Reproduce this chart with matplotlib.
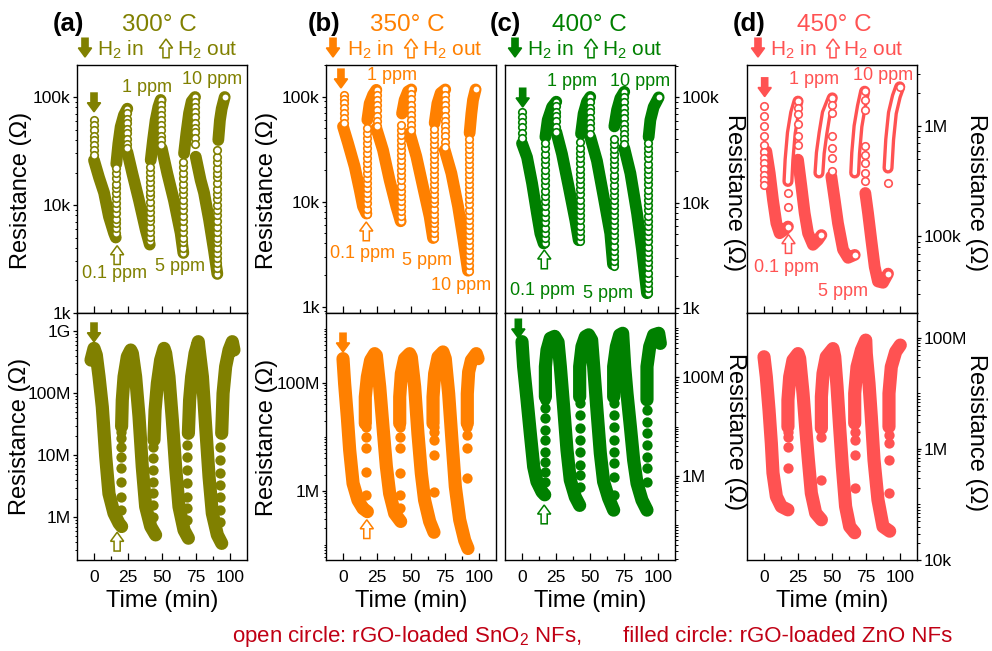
import numpy as np
import matplotlib.pyplot as plt
from matplotlib import font_manager
from matplotlib.patches import Polygon
from matplotlib.ticker import LogLocator, NullFormatter
from matplotlib.transforms import Affine2D, ScaledTranslation

plt.rcParams['font.family'] = ['Liberation Sans', 'DejaVu Sans']
plt.rcParams['mathtext.default'] = 'regular'

# time in min; rGO/SnO2 (open circles) in kOhm, rGO/ZnO (filled circles) in MOhm
# bands: slow sweeps (dense points), cols: fast jumps at a gas switch (t, [R...])

# ---- (a) 300 C ----
a_sn_bands = [
    ([0, 3.7, 7.4, 11.0, 14.7, 16.0], [26, 18, 13, 7.8, 5.5, 5.0]),
    ([16.4, 17.9, 19.6, 22.0, 24.5], [24, 37, 53, 68, 78]),
    ([24.5, 28.2, 33.1, 38.0, 41.0], [31, 19.6, 11, 5.9, 4.3]),
    ([41.7, 43.4, 45.3, 47.3, 49.0], [26, 40, 61, 81, 94]),
    ([49.8, 53.9, 58.8, 63.7, 65.7], [33.5, 19.6, 11, 5.5, 3.6]),
    ([66.2, 67.9, 69.9, 71.8, 74.3], [30, 46, 71, 91, 100]),
    ([74.8, 78.4, 80.9, 84.6, 88.2, 90.7], [28, 17, 13, 7.3, 3.8, 2.3]),
    ([91.4, 92.6, 93.9, 96.1], [40, 61, 78, 100]),
]
a_sn_cols = [
    (0.0, [61, 55, 49, 44, 40, 36, 32, 29]),
    (16.0, [5.5, 6.1, 6.8, 7.5, 8.4, 9.3, 10.4, 11.5, 12.8, 14.3, 15.8, 17.7, 19.6, 21.9]),
    (24.5, [78, 71, 63, 57, 51, 46, 41, 37, 33.5]),
    (41.0, [4.6, 5.1, 5.6, 6.3, 7.1, 7.8, 8.7, 9.5, 10.7, 12, 13.2, 14.8, 16.2, 18.2, 20.4, 22.4]),
    (49.0, [94, 84, 76, 68, 61, 55, 49, 44, 40, 36]),
    (65.7, [3.6, 4.0, 4.5, 5.0, 5.6, 6.3, 7.1, 7.9, 8.9, 10, 11.2, 12.6, 14.1, 15.8, 17.8, 20, 22.4, 25]),
    (74.3, [100, 90, 81, 72, 65, 58, 52, 47, 42, 37]),
    (90.7, [2.3, 2.6, 2.9, 3.2, 3.6, 4.0, 4.5, 5.0, 5.6, 6.3, 7.1, 8.0, 9.0, 10, 11.3, 12.6,
            14, 16, 18, 20, 22, 25, 28, 32]),
    (96.1, [100]),
]
a_zn_bands = [
    ([-2.2, 0, 1.7, 3.7, 6.1, 8.6, 11.0, 14.7, 18.4, 20.3], [340, 525, 410, 184, 60, 9.5, 2.4, 1.16, 0.80, 0.71]),
    ([20.3, 20.8, 22.1, 24.5, 27.0, 28.2, 30.6, 33.1, 35.5, 38.0, 41.7, 45.3],
     [29, 77, 184, 386, 494, 437, 184, 42, 6.5, 1.48, 0.71, 0.52]),
    ([44.1, 44.9, 46.6, 49.0, 51.5, 52.7, 55.1, 57.6, 60.0, 62.5, 66.2, 69.4],
     [17.6, 53, 144, 341, 525, 437, 184, 37, 6.5, 1.48, 0.62, 0.46]),
    ([69.4, 70.3, 71.8, 74.3, 76.7, 77.2, 79.7, 82.1, 84.6, 87.0, 90.7, 93.9],
     [22.5, 77, 184, 437, 673, 525, 184, 29, 4.5, 1.16, 0.52, 0.38]),
    ([93.9, 94.9, 96.8, 99.3, 101.7, 102.9], [22.5, 99, 267, 494, 673, 494]),
]
a_zn_cols = [
    (19.6, [1.31, 2.15, 3.75, 6.15, 9.5, 13.7, 18.7, 24]),
    (43.4, [1.02, 1.58, 2.43, 3.75, 5.8, 8.9, 13.7]),
    (68.6, [0.90, 1.39, 2.15, 3.52, 5.8, 9.5, 14.6]),
    (92.4, [0.85, 1.31, 2.15, 3.31, 5.1, 8.4, 13.7]),
]

# ---- (b) 350 C ----
b_sn_bands = [
    ([0, 3.7, 8.6, 12.3, 14.7, 17.2], [52, 36, 21.5, 12.9, 9.0, 7.7]),
    ([17.9, 19.6, 22.1, 24.5], [60, 86, 104, 116]),
    ([24.5, 29.4, 34.3, 39.2, 42.4], [50, 31, 16, 9.0, 6.5]),
    ([43.4, 45.3, 47.8, 50.2], [69, 93, 112, 117]),
    ([49.0, 53.9, 58.8, 63.7, 66.2], [45, 27, 13.9, 7.2, 4.5]),
    ([67.4, 69.4, 71.8, 75.2], [56, 86, 108, 117]),
    ([74.8, 79.7, 84.6, 88.2, 91.9], [31, 18.6, 9.0, 4.6, 2.2]),
    ([93.1, 94.4, 95.6, 97.5], [45, 69, 93, 117]),
]
b_sn_cols = [
    (0.7, [104, 95, 86, 78, 70, 62, 56]),
    (17.9, [7.7, 8.6, 9.7, 10.8, 12, 13.4, 15, 16.7, 18.7, 20.9, 23.3, 26.1, 29, 32.4, 36.2, 40.5, 45.2, 50.5]),
    (25.2, [116, 104, 93, 83, 74, 66, 59, 53]),
    (42.9, [6.5, 7.3, 8.1, 9.1, 10.2, 11.4, 12.7, 14.2, 15.9, 17.8, 19.9, 22.2, 24.8, 27.8, 31, 34.7,
            38.8, 43.3, 48.4, 54]),
    (50.2, [117, 105, 94, 84, 75, 67, 60, 54, 48]),
    (66.9, [4.5, 5.0, 5.6, 6.2, 6.9, 7.7, 8.6, 9.6, 10.7, 11.9, 13.3, 14.8, 16.5, 18.4, 20.5, 22.9,
            25.5, 28.4, 31.7, 35.3, 39.4, 43.9, 49]),
    (75.2, [117, 104, 93, 83, 74, 66, 59, 52, 47, 42, 37, 33]),
    (92.4, [2.2, 2.5, 2.8, 3.1, 3.5, 3.9, 4.3, 4.8, 5.4, 6.0, 6.7, 7.5, 8.4, 9.4, 10.5, 11.7, 13.1,
            14.6, 16.3, 18.2, 20.3, 22.7, 25.3, 28.3, 31.6, 35.3, 39.4]),
    (97.5, [117]),
]
b_zn_bands = [
    ([0, 1.2, 3.2, 4.9, 7.4, 11.0, 14.7, 17.9], [282, 97, 23, 5.7, 1.37, 0.67, 0.47, 0.41]),
    ([16.4, 16.4, 17.9, 20.3, 23.3, 24.5, 27.0, 29.4, 31.9, 34.3, 38.0, 42.4],
     [17.7, 55, 129, 263, 349, 325, 84, 15.3, 2.8, 0.89, 0.38, 0.27]),
    ([41.7, 41.7, 42.9, 45.3, 49.0, 50.2, 52.7, 55.1, 57.6, 60.0, 63.7, 66.9],
     [17.7, 55, 149, 282, 349, 303, 84, 11.5, 2.1, 0.67, 0.27, 0.17]),
    ([66.2, 66.2, 67.4, 69.9, 73.5, 75.2, 77.7, 80.1, 82.6, 85.8, 89.5, 91.9],
     [17.7, 55, 149, 303, 375, 282, 63, 8.7, 1.19, 0.29, 0.12, 0.085]),
    ([91.4, 91.4, 92.4, 94.4, 98.0, 99.3], [17.7, 63, 160, 263, 349, 282]),
]
b_zn_cols = [
    (17.2, [0.83, 2.25, 6.1, 10, 15.3]),
    (42.2, [0.47, 0.83, 2.1, 6.1, 10, 15.3]),
    (66.9, [0.96, 4.6, 8.7, 12.4, 15.3]),
    (91.4, [1.69, 6.1, 10.7, 15.3]),
]

# ---- (c) 400 C ----
c_sn_bands = [
    ([0, 3.7, 7.4, 11.0, 13.5, 15.9], [36.6, 27, 15.3, 7.9, 5.1, 4.1]),
    ([17.2, 18.9, 22.1, 25.2], [42, 61, 81, 91]),
    ([25.2, 29.4, 34.3, 39.2, 41.7], [47, 29, 14.2, 6.8, 4.4]),
    ([43.4, 45.3, 47.8, 50.2], [45, 70, 91, 101]),
    ([50.2, 55.1, 60.0, 64.9, 66.9], [42, 25, 11.4, 5.1, 2.6]),
    ([67.9, 69.9, 72.3, 75.2], [53, 76, 98, 113]),
    ([75.2, 79.7, 84.6, 88.2, 91.9], [33, 19, 7.9, 3.6, 1.38]),
    ([93.1, 94.4, 96.8, 100.5], [42, 61, 81, 100]),
]
c_sn_cols = [
    (0.0, [73, 65, 58, 52, 46, 41]),
    (16.7, [4.1, 4.6, 5.2, 5.8, 6.5, 7.3, 8.2, 9.2, 10.3, 11.6, 13, 14.6, 16.4, 18.4, 20.6, 23.1, 26,
            29.1, 32.7, 36.7]),
    (25.2, [91, 82, 73, 66, 59, 52, 47]),
    (42.4, [4.3, 4.8, 5.4, 6.0, 6.8, 7.6, 8.5, 9.5, 10.7, 12, 13.4, 15, 16.8, 18.8, 21.1, 23.7, 26.5,
            29.7, 33.3, 37.3]),
    (50.2, [101, 90, 80, 72, 64, 57, 51, 45]),
    (67.4, [2.5, 2.8, 3.1, 3.5, 3.9, 4.4, 4.9, 5.5, 6.1, 6.8, 7.6, 8.5, 9.5, 10.6, 11.9, 13.3, 14.8,
            16.6, 18.5, 20.7, 23.1, 25.8, 28.8, 32.2, 36, 40]),
    (75.2, [113, 101, 90, 80, 71, 63, 56, 50, 45, 40, 36]),
    (92.4, [1.38, 1.55, 1.73, 1.94, 2.17, 2.43, 2.72, 3.05, 3.42, 3.83, 4.29, 4.8, 5.4, 6.0, 6.7, 7.5,
            8.5, 9.5, 10.6, 11.9, 13.3, 14.9, 16.7, 18.7, 21, 23.5, 26.3, 29.5, 33, 37]),
    (100.5, [100]),
]
c_zn_bands = [
    ([0, 1.2, 3.7, 6.1, 8.6, 11.0, 14.7, 16.7], [531, 165, 35, 7.3, 1.52, 0.76, 0.47, 0.41]),
    ([17.2, 17.2, 18.4, 20.8, 24.0, 26.5, 28.2, 30.6, 33.1, 35.5, 39.2, 42.4],
     [40, 165, 360, 621, 680, 520, 165, 25, 3.3, 0.82, 0.37, 0.25]),
    ([42.4, 42.4, 44.1, 46.6, 49.0, 51.2, 52.7, 55.1, 57.6, 60.0, 63.7, 67.4],
     [40, 165, 421, 671, 730, 574, 165, 21.7, 2.85, 0.76, 0.35, 0.20]),
    ([67.4, 67.4, 69.4, 71.8, 74.0, 75.5, 77.2, 79.7, 82.1, 84.6, 88.2, 91.9],
     [40, 165, 421, 726, 785, 165, 47, 9.9, 2.08, 0.70, 0.32, 0.20]),
    ([91.9, 91.9, 93.9, 96.8, 100.5, 101.7], [35, 165, 421, 726, 785, 490]),
]
c_zn_cols = [
    (16.7, [0.76, 1.21, 1.93, 3.08, 5.3, 8.5, 14.7, 23.4, 34.6]),
    (42.4, [0.60, 1.03, 1.65, 3.08, 5.3, 9.2, 17, 30]),
    (67.4, [0.41, 0.96, 1.78, 3.08, 5.3, 9.9, 17, 30]),
    (91.9, [0.76, 1.41, 2.43, 4.2, 7.3, 12.5, 21.7]),
]

# ---- (d) 450 C ----
d_sn_bands = [
    ([1.7, 4.2, 6.6, 9.1, 11.5, 15.2, 17.6], [593, 377, 215, 132, 107, 115, 123]),
    ([25.0, 27.5, 29.9, 32.4, 36.0, 39.7, 42.2], [498, 285, 163, 107, 84, 93, 103]),
    ([49.5, 52.0, 54.4, 58.1, 61.8, 66.7], [351, 215, 132, 76, 64, 68]),
    ([74.5, 76.5, 78.9, 81.4, 83.8, 87.5, 91.2], [248, 163, 93, 53, 39, 38, 46]),
]
d_sn_rise = [
    ([17.6, 18.4, 20.1, 22.5, 25.0], [316, 498, 869, 1320, 1690]),
    ([40.4, 41.4, 43.4, 45.8, 50.2], [377, 572, 869, 1320, 1810]),
    ([66.7, 67.4, 69.1, 71.6, 74.0], [377, 572, 1000, 1520, 2080]),
    ([91.2, 92.4, 94.4, 97.3, 99.8], [418, 757, 1320, 1870, 2280]),
]
d_sn_cols = [
    (0.0, [1540, 1250, 1010, 811, 681, 590, 520, 460, 410, 365, 325, 295]),
    (17.6, [123, 187, 248]),
    (25.0, [1690, 1470, 1280, 1040, 811, 681]),
    (42.2, [103]),
    (50.2, [1810, 1570, 1320, 811, 636, 515, 390]),
    (66.7, [68]),
    (74.5, [2080, 1750, 1420, 658, 552, 464, 377, 316]),
    (91.2, [46, 305]),
    (99.8, [2280]),
]
d_zn_bands = [
    ([0, 1.7, 3.7, 5.4, 6.6, 9.1, 12.7, 17.6], [45.6, 19.9, 5.0, 1.26, 0.37, 0.139, 0.092, 0.080]),
    ([17.6, 17.6, 18.9, 21.3, 25.0, 26.2, 28.7, 30.6, 32.4, 34.8, 38.0, 42.2],
     [2.5, 7.6, 19.9, 39.7, 52, 42.6, 10, 2.5, 0.73, 0.16, 0.070, 0.053]),
    ([42.2, 42.2, 43.4, 45.8, 50.7, 52.0, 53.7, 55.6, 57.6, 60.0, 63.0, 66.7],
     [2.35, 8.7, 22.9, 45.6, 64, 45.6, 13.2, 2.5, 0.48, 0.092, 0.040, 0.031]),
    ([66.7, 66.7, 68.4, 71.6, 74.8, 75.2, 77.2, 78.9, 80.9, 83.8, 87.5, 92.4],
     [2.9, 10, 30, 60, 91, 52, 15.1, 3.8, 0.63, 0.121, 0.040, 0.033]),
    ([91.9, 91.9, 93.6, 96.8, 100.2], [2.5, 10, 30, 56, 74]),
]
d_zn_cols = [
    (17.6, [0.45, 1.1, 1.67, 2.05]),
    (42.2, [0.28, 1.67, 2.35]),
    (66.7, [0.20, 0.78, 1.45, 2.05]),
    (91.9, [0.16, 0.63, 1.26, 1.78]),
]

temps = ['300° C', '350° C', '400° C', '450° C']
tags = ['(a)', '(b)', '(c)', '(d)']
ppm_labels = ['0.1 ppm', '1 ppm', '5 ppm', '10 ppm']
colors = ['#808000', '#ff8000', '#008000', '#ff5252']

# ---------------------------------------------------------------
W, H = 992, 651
fig = plt.figure(figsize=(W / 100, H / 100), dpi=100)
fig.patch.set_facecolor('white')


def fxy(px, py):
    return px / W, 1 - py / H


def ftext(px, py, s, **kw):
    x, y = fxy(px, py)
    return fig.text(x, y, s, **kw)


def rect(x0, x1, y0, y1):
    return [x0 / W, 1 - y1 / H, (x1 - x0) / W, (y1 - y0) / H]


def block_arrow(x, y, trans, color, down=True, filled=True, parent=None):
    # tip sits at (x, y); shape is given in points
    hw, sw, hl, L = 9.5, 4.4, 6.5, 13.5
    pts = np.array([[0, 0], [hw / 2, hl], [sw / 2, hl], [sw / 2, L],
                    [-sw / 2, L], [-sw / 2, hl], [-hw / 2, hl]], dtype=float)
    if not down:
        pts[:, 1] *= -1
    tr = Affine2D().scale(fig.dpi / 72) + ScaledTranslation(x, y, trans)
    poly = Polygon(pts, closed=True, fc=color if filled else 'white', ec=color,
                   lw=1.1, transform=tr, clip_on=False, zorder=6)
    (parent if parent is not None else fig).add_artist(poly)


def style(ax, ylim, ticks, labels, side, subs, show_x):
    ax.set_yscale('log')
    ax.set_xlim(-12.5, 112.5)
    ax.set_ylim(*ylim)
    ax.set_xticks([0, 25, 50, 75, 100])
    ax.set_xticks([12.5, 37.5, 62.5, 87.5], minor=True)
    ax.set_yticks(ticks, labels)
    ax.yaxis.set_minor_locator(LogLocator(base=10, subs=subs, numticks=40))
    ax.yaxis.set_minor_formatter(NullFormatter())
    ax.tick_params(axis='x', which='both', direction='in', top=False,
                   labelbottom=show_x, labelsize=12.5, pad=7)
    ax.tick_params(axis='x', which='major', length=5, width=0.9)
    ax.tick_params(axis='x', which='minor', length=3, width=0.9)
    if side == 'right':
        ax.yaxis.tick_right()
    ax.tick_params(axis='y', which='major', direction='out', length=3, width=0.9,
                   labelsize=12.5, pad=1.5)
    ax.tick_params(axis='y', which='minor', direction='out', length=1.8, width=0.7)
    for sp in ax.spines.values():
        sp.set_linewidth(1.0)


def draw_sweeps(ax, bands, cols, color, unit, hollow, lw, ms):
    for t, r in bands:
        ax.plot(t, np.array(r) * unit, color=color, lw=lw, solid_capstyle='round',
                solid_joinstyle='round', zorder=2)
    for t, r in cols:
        ax.plot(np.full(len(r), t), np.array(r) * unit, ls='none', marker='o', ms=ms,
                mec=color, mfc='white' if hollow else color, mew=1.2, zorder=3)


# axes boxes (pixel columns) and y setup for each temperature
x_cols = [(77, 247), (326, 496), (505, 675), (747, 917)]
top_lims = [(1e3, 1.98e5), (870, 2e5), (895, 2.03e5), (2.02e4, 3.6e6)]
bot_lims = [(2.05e5, 1.95e9), (5.2e4, 1.98e9), (1.94e4, 2.03e9), (1e4, 2.8e8)]
top_ticks = [([1e3, 1e4, 1e5], ['1k', '10k', '100k'])] * 3 + [([1e5, 1e6], ['100k', '1M'])]
bot_ticks = [([1e6, 1e7, 1e8, 1e9], ['1M', '10M', '100M', '1G']),
             ([1e6, 1e8], ['1M', '100M']),
             ([1e6, 1e8], ['1M', '100M']),
             ([1e4, 1e6, 1e8], ['10k', '1M', '100M'])]
bot_subs = [np.arange(2, 10), np.arange(1, 10), np.arange(1, 10), np.arange(1, 10)]
sides = ['left', 'left', 'right', 'right']

sn_data = [(a_sn_bands, a_sn_cols), (b_sn_bands, b_sn_cols), (c_sn_bands, c_sn_cols),
           (d_sn_bands, d_sn_cols)]
zn_data = [(a_zn_bands, a_zn_cols), (b_zn_bands, b_zn_cols), (c_zn_bands, c_zn_cols),
           (d_zn_bands, d_zn_cols)]

tops, bots = [], []
for i in range(4):
    x0, x1 = x_cols[i]
    col = colors[i]
    axt = fig.add_axes(rect(x0, x1, 65, 313))
    axb = fig.add_axes(rect(x0, x1, 313, 560))
    style(axt, top_lims[i], *top_ticks[i], sides[i], np.arange(2, 10), False)
    style(axb, bot_lims[i], *bot_ticks[i], sides[i], bot_subs[i], True)

    draw_sweeps(axt, *sn_data[i], col, 1e3, True, 8.5, 5.4)
    draw_sweeps(axb, *zn_data[i], col, 1e6, False, 9.5, 6.2)
    tops.append(axt)
    bots.append(axb)

# recovery sweeps of the 450 C SnO2 sensor show as stacked hollow rings
for t, r in d_sn_rise:
    tops[3].plot(t, np.array(r) * 1e3, color=colors[3], lw=8, solid_capstyle='round', zorder=2)
    tops[3].plot(t, np.array(r) * 1e3, color='white', lw=3.2, solid_capstyle='round', zorder=2.1)

# gas in / gas out markers inside the panels (tip at data point)
in_marks_top = [(0, 73e3), (-1.5, 121e3), (0.5, 81e3), (0.5, 1.86e6)]
out_marks_top = [(17.0, 4.2e3), (17.1, 6.4e3), (16.4, 3.55e3), (18.0, 1.04e5)]
in_marks_bot = [(0, 670e6), (0, 375e6), (-2.7, 630e6)]
out_marks_bot = [(17.0, 573e3), (17.5, 290e3), (16.3, 254e3)]
for i in range(4):
    block_arrow(*in_marks_top[i], tops[i].transData, colors[i], True, True, tops[i])
    block_arrow(*out_marks_top[i], tops[i].transData, colors[i], False, False, tops[i])
for i in range(3):
    block_arrow(*in_marks_bot[i], bots[i].transData, colors[i], True, True, bots[i])
    block_arrow(*out_marks_bot[i], bots[i].transData, colors[i], False, False, bots[i])

# headers
tag_x = [53, 308, 490, 733]
temp_x = [122, 370, 552, 797]
arr_in_x = [85, 333, 515, 758]
h_in_x = [97, 347, 527, 770]
arr_out_x = [166, 411, 591, 833]
h_out_x = [177, 422, 602, 843]
for i in range(4):
    col = colors[i]
    ftext(tag_x[i], 31, tags[i], fontsize=18.5, fontweight='bold', color='black', va='baseline')
    ftext(temp_x[i], 31, temps[i], fontsize=17.5, color=col, va='baseline')
    block_arrow(*fxy(arr_in_x[i], 57), fig.transFigure, col, True, True)
    ftext(h_in_x[i], 56, 'H$_2$ in', fontsize=15, color=col, va='baseline')
    block_arrow(*fxy(arr_out_x[i], 39), fig.transFigure, col, False, False)
    ftext(h_out_x[i], 56, 'H$_2$ out', fontsize=15, color=col, va='baseline')

# concentration labels (0.1, 1, 5, 10 ppm)
ppm_pos = [
    [(115, 274), (147, 88), (180, 266), (212, 79)],
    [(362, 253), (392, 76), (427, 261), (461, 286)],
    [(543, 291), (572, 81), (608, 294), (640, 81)],
    [(786, 267), (814, 79), (843, 292), (883, 76)],
]
for i in range(4):
    for lab, (px, py) in zip(ppm_labels, ppm_pos[i]):
        ftext(px, py, lab, fontsize=13, color=colors[i], ha='center', va='center')

# axis titles
ylab = 'Resistance (Ω)'
for (px, py, rot) in [(21, 190, 90), (20, 436, 90), (267, 190, 90), (267, 437, 90),
                      (734, 193, 270), (735, 432, 270), (976, 193, 270), (976, 433, 270)]:
    ftext(px, py, ylab, fontsize=17, rotation=rot, ha='center', va='center')
for x0, x1 in x_cols:
    ftext((x0 + x1) / 2, 601, 'Time (min)', fontsize=17, ha='center', va='center')

# material legend line
avail = {f.name for f in font_manager.fontManager.ttflist}
if 'Liberation Sans Narrow' in avail:
    cap_fam, cap_size = ['Liberation Sans Narrow', 'DejaVu Sans'], 19
else:
    cap_fam, cap_size = ['Liberation Sans', 'DejaVu Sans'], 16
ftext(232, 642, 'open circle: rGO-loaded SnO$_2$ NFs,', fontsize=cap_size, family=cap_fam,
      color='#c00014', va='baseline')
ftext(623, 642, 'filled circle: rGO-loaded ZnO NFs', fontsize=cap_size, family=cap_fam,
      color='#c00014', va='baseline')

fig.savefig('out.png', dpi=100)
